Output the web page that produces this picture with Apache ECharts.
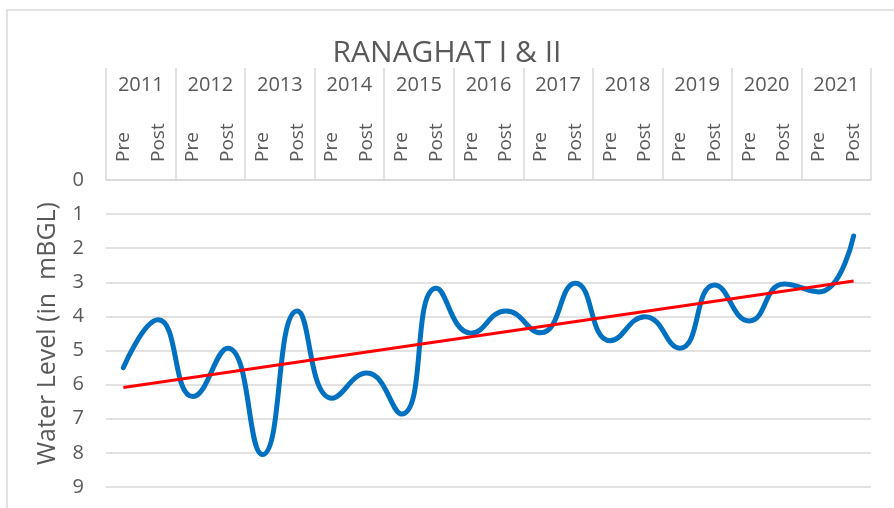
<!DOCTYPE html>
<html>
<head>
<meta charset="utf-8">
<script src="https://cdn.jsdelivr.net/npm/echarts@6/dist/echarts.min.js"></script>
<style>
  html, body { margin: 0; padding: 0; background: #fff; }
  #chart { width: 894px; height: 508px; }
</style>
</head>
<body>
<div id="chart"></div>
<script>
// years along the top, each with a pre- and post-monsoon reading
const years = ['2011', '2012', '2013', '2014', '2015', '2016', '2017', '2018', '2019', '2020', '2021'];
const seasons = ['Pre', 'Post', 'Pre', 'Post', 'Pre', 'Post', 'Pre', 'Post', 'Pre', 'Post', 'Pre',
  'Post', 'Pre', 'Post', 'Pre', 'Post', 'Pre', 'Post', 'Pre', 'Post', 'Pre', 'Post'];
// water level, m below ground level
const waterLevel = [5.5, 4.1, 6.35, 4.93, 8.05, 3.84, 6.4, 5.66, 6.86, 3.17, 4.49,
  3.84, 4.48, 3.03, 4.71, 4.01, 4.93, 3.08, 4.13, 3.05, 3.28, 1.64];
// linear trend, only ends
const trend = [6.08, null, null, null, null, null, null, null, null, null, null,
  null, null, null, null, null, null, null, null, null, null, 2.96];

const grey = '#595959';
const lineGrey = '#d9d9d9';
const font = '"Open Sans", sans-serif';

const chart = echarts.init(document.getElementById('chart'));
chart.setOption({
  animation: false,
  title: {
    text: 'RANAGHAT I & II',
    left: 'center',
    top: 33,
    textStyle: { fontFamily: font, fontSize: 30, fontWeight: 'normal', color: grey }
  },
  graphic: [{
    type: 'rect',
    shape: { x: 7, y: 10, width: 900, height: 520 },
    style: { fill: 'none', stroke: lineGrey, lineWidth: 1.5 }
  }],
  grid: { left: 106, right: 23, top: 180, bottom: 21 },
  xAxis: [
    {
      type: 'category',
      position: 'top',
      data: seasons,
      axisLine: { show: true, lineStyle: { color: lineGrey, width: 1.5 } },
      axisTick: { show: false },
      axisLabel: { interval: 0, rotate: 90, margin: 18, fontFamily: font, fontSize: 19, color: grey }
    },
    {
      type: 'category',
      position: 'top',
      data: years,
      axisLine: { show: false },
      axisTick: { show: true, length: 112, interval: 0, lineStyle: { color: lineGrey, width: 1.5 } },
      axisLabel: { interval: 0, margin: 85, fontFamily: font, fontSize: 20, color: grey }
    }
  ],
  yAxis: {
    type: 'value',
    inverse: true,
    min: 0,
    max: 9,
    interval: 1,
    name: 'Water Level (in  mBGL)',
    nameLocation: 'middle',
    nameGap: 46,
    nameTextStyle: { fontFamily: font, fontSize: 25, color: grey },
    axisLine: { show: false },
    axisTick: { show: false },
    axisLabel: { margin: 22, fontFamily: font, fontSize: 20, color: grey },
    splitLine: { lineStyle: { color: lineGrey, width: 1.5 } }
  },
  series: [
    {
      type: 'line',
      data: waterLevel,
      smooth: 0.5,
      showSymbol: false,
      lineStyle: { color: '#0070C0', width: 5, cap: 'round' },
      z: 2
    },
    {
      type: 'line',
      data: trend,
      connectNulls: true,
      showSymbol: false,
      lineStyle: { color: '#FF0000', width: 3 },
      z: 3
    }
  ]
});
</script>
</body>
</html>
